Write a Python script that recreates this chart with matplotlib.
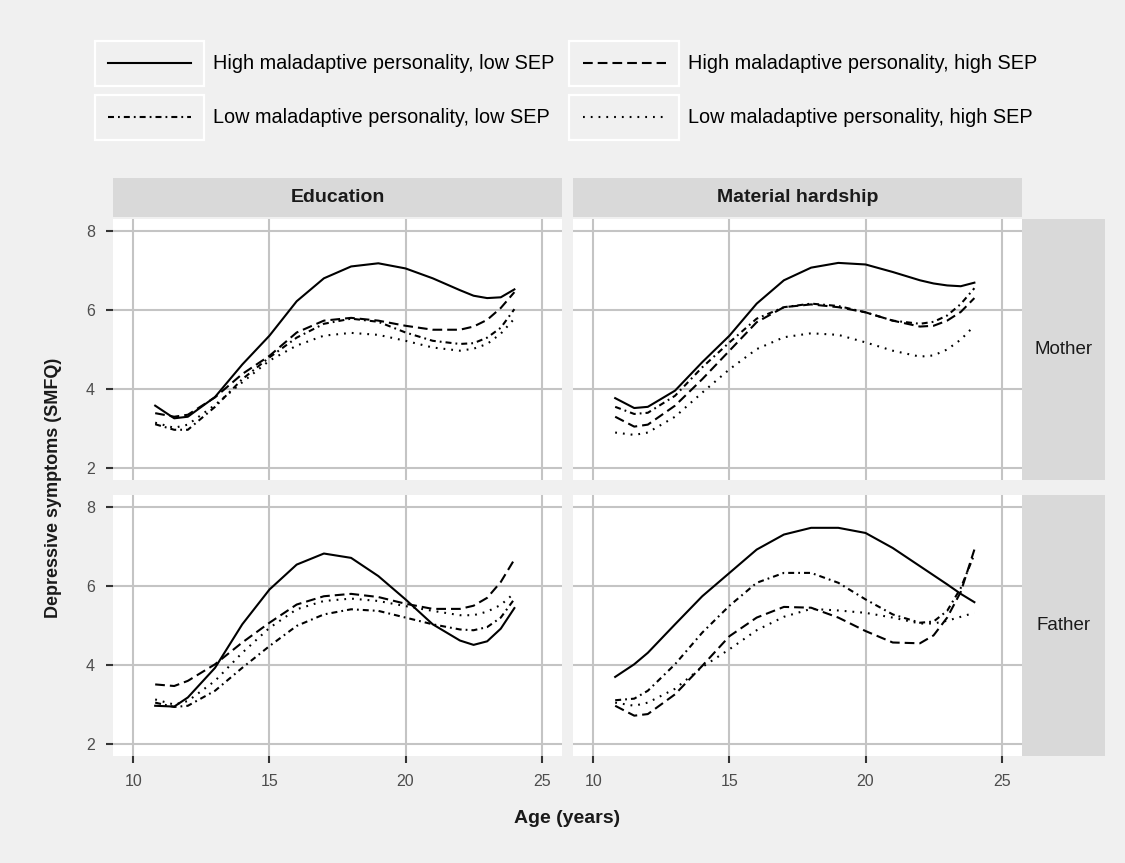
"""Depressive symptom trajectories by maladaptive personality and SEP (facetted)."""
import matplotlib
matplotlib.use("Agg")
import matplotlib.pyplot as plt
from matplotlib.patches import Rectangle
from matplotlib.lines import Line2D
from matplotlib.legend_handler import HandlerBase

plt.rcParams['font.family'] = ['Liberation Sans', 'DejaVu Sans']
plt.rcParams['lines.scale_dashes'] = False

BG = "#f0f0f0"
STRIP = "#d9d9d9"
GRID = "#c4c4c4"

AGE = [10.8, 11.5, 12, 13, 14, 15, 16, 17, 18, 19, 20, 21, 22, 22.5, 23, 23.5, 24]

COLS = ["Education", "Material hardship"]
ROWS = ["Mother", "Father"]
GROUPS = ["High maladaptive personality, low SEP", "Low maladaptive personality, low SEP",
          "High maladaptive personality, high SEP", "Low maladaptive personality, high SEP"]

# HL = high personality / low SEP, LL, HH, LH likewise
EDU_MOTHER_HL = [3.58, 3.26, 3.30, 3.80, 4.62, 5.35, 6.22, 6.80, 7.10, 7.18, 7.05, 6.80, 6.50, 6.36, 6.30, 6.32, 6.52]
EDU_MOTHER_LL = [3.11, 2.97, 2.97, 3.55, 4.25, 4.80, 5.30, 5.65, 5.78, 5.70, 5.43, 5.22, 5.14, 5.16, 5.30, 5.55, 6.02]
EDU_MOTHER_HH = [3.39, 3.30, 3.35, 3.79, 4.38, 4.84, 5.43, 5.73, 5.80, 5.73, 5.60, 5.50, 5.50, 5.58, 5.75, 6.05, 6.45]
EDU_MOTHER_LH = [3.15, 3.02, 3.10, 3.60, 4.17, 4.72, 5.10, 5.35, 5.42, 5.37, 5.22, 5.05, 4.97, 5.02, 5.14, 5.40, 5.78]

MAT_MOTHER_HL = [3.77, 3.52, 3.55, 3.96, 4.68, 5.35, 6.16, 6.75, 7.07, 7.19, 7.15, 6.96, 6.75, 6.67, 6.62, 6.60, 6.69]
MAT_MOTHER_LL = [3.55, 3.37, 3.40, 3.83, 4.55, 5.18, 5.78, 6.07, 6.16, 6.10, 5.94, 5.73, 5.65, 5.70, 5.86, 6.15, 6.55]
MAT_MOTHER_HH = [3.30, 3.05, 3.10, 3.58, 4.25, 4.97, 5.69, 6.07, 6.14, 6.07, 5.94, 5.73, 5.58, 5.60, 5.73, 5.95, 6.30]
MAT_MOTHER_LH = [2.90, 2.84, 2.90, 3.30, 3.91, 4.50, 5.01, 5.31, 5.41, 5.37, 5.18, 4.97, 4.82, 4.85, 5.00, 5.25, 5.60]

EDU_FATHER_HL = [2.97, 2.95, 3.18, 3.93, 5.03, 5.91, 6.54, 6.82, 6.71, 6.25, 5.66, 5.03, 4.62, 4.51, 4.60, 4.92, 5.44]
EDU_FATHER_LL = [3.05, 2.94, 2.97, 3.35, 3.93, 4.48, 4.99, 5.28, 5.41, 5.37, 5.20, 5.03, 4.90, 4.88, 4.96, 5.20, 5.67]
EDU_FATHER_HH = [3.51, 3.47, 3.60, 4.02, 4.57, 5.07, 5.53, 5.74, 5.80, 5.72, 5.55, 5.42, 5.42, 5.50, 5.70, 6.10, 6.67]
EDU_FATHER_LH = [3.13, 3.00, 3.09, 3.60, 4.31, 4.94, 5.41, 5.62, 5.68, 5.62, 5.49, 5.37, 5.26, 5.26, 5.35, 5.52, 5.82]

MAT_FATHER_HL = [3.70, 4.02, 4.31, 5.03, 5.74, 6.33, 6.92, 7.30, 7.47, 7.47, 7.34, 6.96, 6.50, 6.27, 6.04, 5.80, 5.59]
MAT_FATHER_LL = [3.11, 3.15, 3.35, 4.02, 4.82, 5.50, 6.08, 6.33, 6.33, 6.08, 5.66, 5.28, 5.07, 5.10, 5.37, 5.95, 6.80]
MAT_FATHER_HH = [2.97, 2.72, 2.76, 3.26, 3.98, 4.73, 5.20, 5.47, 5.45, 5.20, 4.86, 4.57, 4.55, 4.75, 5.20, 5.85, 6.92]
MAT_FATHER_LH = [3.05, 2.97, 3.05, 3.40, 3.95, 4.40, 4.88, 5.22, 5.42, 5.38, 5.32, 5.20, 5.05, 5.05, 5.12, 5.22, 5.32]

PANELS = {
    (0, 0): [EDU_MOTHER_HL, EDU_MOTHER_LL, EDU_MOTHER_HH, EDU_MOTHER_LH],
    (0, 1): [MAT_MOTHER_HL, MAT_MOTHER_LL, MAT_MOTHER_HH, MAT_MOTHER_LH],
    (1, 0): [EDU_FATHER_HL, EDU_FATHER_LL, EDU_FATHER_HH, EDU_FATHER_LH],
    (1, 1): [MAT_FATHER_HL, MAT_FATHER_LL, MAT_FATHER_HH, MAT_FATHER_LH],
}

# solid, dotdash, dashed, dotted (dash lengths in points)
STYLES = ["-", (0, (4.3, 2.9, 1.3, 2.9)), (0, (7.0, 3.6)), (0, (1.3, 4.3))]

W, H = 1125, 863
COL_X = [113, 573]
ROW_Y = [219, 495]
PW, PH = 449, 261


class BoxedKey(HandlerBase):
    def create_artists(self, legend, orig_handle, xdescent, ydescent,
                       width, height, fontsize, trans):
        box = Rectangle((-xdescent, -ydescent), width, height, facecolor=BG,
                        edgecolor="white", lw=1.6, transform=trans)
        pad = 0.12 * width
        ln = Line2D([-xdescent + pad, -xdescent + width - pad],
                    [-ydescent + height / 2] * 2)
        ln.update_from(orig_handle)
        ln.set_clip_box(None)
        ln.set_clip_on(False)
        ln.set_transform(trans)
        return [box, ln]


fig = plt.figure(figsize=(W / 100, H / 100), dpi=100, facecolor=BG)

handles = []
for (r, c), series in PANELS.items():
    ax = fig.add_axes([COL_X[c] / W, 1 - (ROW_Y[r] + PH) / H, PW / W, PH / H])
    ax.set_facecolor("white")
    for y, ls in zip(series, STYLES):
        line, = ax.plot(AGE, y, color="black", lw=1.5, linestyle=ls)
        if (r, c) == (0, 0):
            handles.append(line)
    ax.set_xlim(9.25, 25.75)
    ax.set_ylim(1.7, 8.3)
    ax.set_xticks([10, 15, 20, 25])
    ax.set_yticks([2, 4, 6, 8])
    ax.grid(True, color=GRID, lw=1.5)
    ax.set_axisbelow(True)
    for s in ax.spines.values():
        s.set_visible(False)
    ax.tick_params(length=5, width=1.5, color="#333333", labelcolor="#4d4d4d",
                   labelsize=11.5, pad=8)
    if c != 0:
        ax.tick_params(axis="y", left=False, labelleft=False)
    if r != 1:
        ax.tick_params(axis="x", bottom=False, labelbottom=False)

    if r == 0:
        sh = 39 / PH
        ax.add_patch(Rectangle((0, 1 + 2 / PH), 1, sh, transform=ax.transAxes,
                               facecolor=STRIP, edgecolor="none", clip_on=False))
        ax.text(0.5, 1 + 2 / PH + sh / 2, COLS[c], transform=ax.transAxes,
                ha="center", va="center", fontsize=14, fontweight="bold", color="#1a1a1a")
    if c == 1:
        sw = 83 / PW
        ax.add_patch(Rectangle((1, 0), sw, 1, transform=ax.transAxes,
                               facecolor=STRIP, edgecolor="none", clip_on=False))
        ax.text(1 + sw / 2, 0.5, ROWS[r], transform=ax.transAxes,
                ha="center", va="center", fontsize=13.5, color="#1a1a1a")

fig.text(567 / W, 1 - 818 / H, "Age (years)", ha="center", va="center",
         fontsize=14, fontweight="bold", color="#1a1a1a")
fig.text(54 / W, 1 - 488 / H, "Depressive symptoms (SMFQ)", ha="center", va="center",
         rotation=90, fontsize=13, fontweight="bold", color="#1a1a1a")

fig.legend(handles, GROUPS, ncol=2, loc="upper left",
           bbox_to_anchor=(95 / W, 1 - 41 / H), frameon=False, fontsize=14.3,
           handler_map={Line2D: BoxedKey()}, handlelength=5.5, handleheight=3.1,
           handletextpad=0.45, labelspacing=0.45, columnspacing=0.75,
           borderpad=0, borderaxespad=0)

fig.savefig("out.png", dpi=100, facecolor=BG)
